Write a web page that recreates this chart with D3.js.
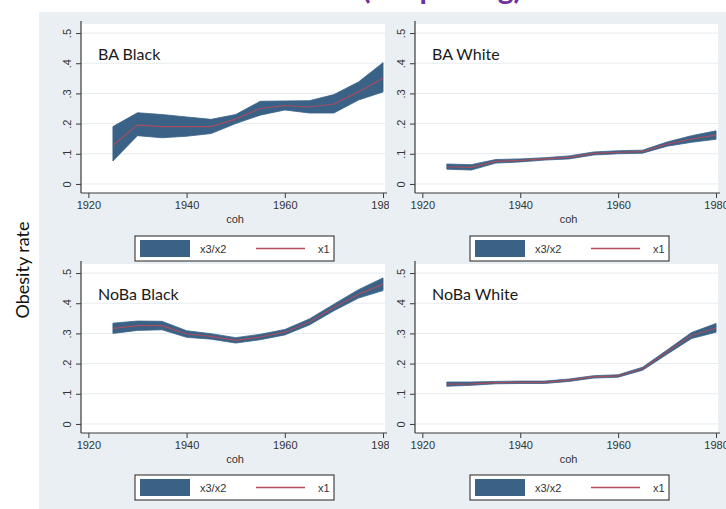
<!DOCTYPE html>
<html>
<head>
<meta charset="utf-8">
<script src="https://cdn.jsdelivr.net/npm/d3@7"></script>
<style>
  html, body { margin: 0; padding: 0; background: #ffffff; }
  svg { display: block; }
</style>
</head>
<body>
<svg id="chart" width="726" height="509"></svg>
<script>
// Birth cohorts on the x axis
const cohorts = [1925, 1930, 1935, 1940, 1945, 1950, 1955, 1960, 1965, 1970, 1975, 1980];

// Obesity rate: x1 = point estimate, x3/x2 = lower/upper bounds
const baBlackX1 = [0.128, 0.195, 0.19, 0.19, 0.19, 0.215, 0.25, 0.26, 0.255, 0.265, 0.305, 0.35];
const baBlackX2 = [0.076, 0.16, 0.153, 0.158, 0.167, 0.2, 0.228, 0.245, 0.235, 0.235, 0.278, 0.305];
const baBlackX3 = [0.19, 0.236, 0.23, 0.222, 0.214, 0.23, 0.274, 0.275, 0.276, 0.296, 0.338, 0.402];

const baWhiteX1 = [0.057, 0.055, 0.075, 0.078, 0.083, 0.088, 0.101, 0.105, 0.107, 0.132, 0.149, 0.162];
const baWhiteX2 = [0.049, 0.046, 0.069, 0.073, 0.079, 0.083, 0.096, 0.1, 0.102, 0.125, 0.138, 0.148];
const baWhiteX3 = [0.066, 0.064, 0.081, 0.083, 0.087, 0.093, 0.106, 0.11, 0.112, 0.139, 0.16, 0.176];

const noBaBlackX1 = [0.317, 0.326, 0.326, 0.298, 0.29, 0.277, 0.288, 0.304, 0.338, 0.386, 0.43, 0.463];
const noBaBlackX2 = [0.3, 0.31, 0.312, 0.287, 0.281, 0.268, 0.279, 0.295, 0.328, 0.375, 0.417, 0.442];
const noBaBlackX3 = [0.334, 0.341, 0.34, 0.309, 0.299, 0.286, 0.297, 0.313, 0.348, 0.397, 0.445, 0.484];

const noBaWhiteX1 = [0.132, 0.133, 0.137, 0.138, 0.138, 0.145, 0.156, 0.159, 0.183, 0.238, 0.293, 0.318];
const noBaWhiteX2 = [0.125, 0.128, 0.133, 0.134, 0.134, 0.141, 0.152, 0.155, 0.178, 0.231, 0.283, 0.304];
const noBaWhiteX3 = [0.139, 0.139, 0.141, 0.142, 0.142, 0.149, 0.16, 0.163, 0.188, 0.245, 0.303, 0.333];

// Axis ticks
const xTicks = [1920, 1940, 1960, 1980];
const yTicks = [0, 0.1, 0.2, 0.3, 0.4, 0.5];
const yTickLabels = ["0", ".1", ".2", ".3", ".4", ".5"];

const panelTitles = ["BA Black", "BA White", "NoBa Black", "NoBa White"];
const seriesX1 = [baBlackX1, baWhiteX1, noBaBlackX1, noBaWhiteX1];
const seriesX2 = [baBlackX2, baWhiteX2, noBaBlackX2, noBaWhiteX2];
const seriesX3 = [baBlackX3, baWhiteX3, noBaBlackX3, noBaWhiteX3];

const svg = d3.select("#chart");

const bandColor = "#3a6287";
const lineColor = "#b34b5b";
const gridColor = "#e6ecef";
const axisColor = "#3a3a3a";
const tickFont = "'Liberation Sans', Arial, sans-serif";
const tickSize = 11;

// Heading above the graph, cut off by the top edge
svg.append("text")
  .attr("x", 442).attr("y", -1)
  .attr("text-anchor", "middle")
  .attr("font-family", "Lato, 'Open Sans', sans-serif")
  .attr("font-size", 30)
  .attr("font-weight", "bold")
  .attr("fill", "#7030a0")
  .text("(Simple avg)");

// Graph region background
svg.append("rect")
  .attr("x", 39).attr("y", 12)
  .attr("width", 726 - 39).attr("height", 509 - 12)
  .attr("fill", "#e9eff3");

// Shared y-axis title
svg.append("text")
  .attr("transform", "translate(29,270) rotate(-90)")
  .attr("text-anchor", "middle")
  .attr("font-family", "Lato, 'Open Sans', sans-serif")
  .attr("font-size", 18)
  .attr("fill", "#111")
  .text("Obesity rate");

// Geometry of the 2x2 grid of panels
const cols = [
  { left: 81, right: 385, clipX: 39, clipW: 350, legendX: 135 },
  { left: 415, right: 718, clipX: 389, clipW: 337, legendX: 470 }
];
const rows = [
  { top: 24, bottom: 193, legendY: 236 },
  { top: 264, bottom: 433, legendY: 475 }
];

const defs = svg.append("defs");

panelTitles.forEach((title, i) => {
  const c = cols[i % 2];
  const r = rows[Math.floor(i / 2)];

  const x = d3.scaleLinear().domain([1918.5, 1980.4]).range([c.left, c.right]);
  const y = d3.scaleLinear().domain([-0.03, 0.53]).range([r.bottom, r.top]);

  const clipId = "panel-clip-" + i;
  defs.append("clipPath").attr("id", clipId)
    .append("rect")
    .attr("x", c.clipX).attr("y", r.top - 14)
    .attr("width", c.clipW).attr("height", r.bottom - r.top + 80);

  const g = svg.append("g").attr("clip-path", `url(#${clipId})`);

  // Plot region
  g.append("rect")
    .attr("x", c.left).attr("y", r.top)
    .attr("width", c.right - c.left).attr("height", r.bottom - r.top)
    .attr("fill", "#ffffff");

  // Horizontal grid
  g.append("g").selectAll("line").data(yTicks).join("line")
    .attr("x1", c.left).attr("x2", c.right)
    .attr("y1", d => y(d)).attr("y2", d => y(d))
    .attr("stroke", gridColor).attr("stroke-width", 1);

  const pts = cohorts.map((yr, k) => ({
    yr, mid: seriesX1[i][k], lo: seriesX2[i][k], hi: seriesX3[i][k]
  }));

  // x3/x2 range band
  g.append("path")
    .datum(pts)
    .attr("fill", bandColor)
    .attr("stroke", bandColor)
    .attr("stroke-width", 0.8)
    .attr("stroke-linejoin", "round")
    .attr("d", d3.area()
      .x(d => x(d.yr))
      .y0(d => y(d.lo))
      .y1(d => y(d.hi)));

  // x1 estimate
  g.append("path")
    .datum(pts)
    .attr("fill", "none")
    .attr("stroke", lineColor)
    .attr("stroke-width", 1.2)
    .attr("stroke-opacity", 0.9)
    .attr("stroke-linejoin", "round")
    .attr("d", d3.line().x(d => x(d.yr)).y(d => y(d.mid)));

  // Panel title
  g.append("text")
    .attr("x", c.left + 17).attr("y", r.top + 36)
    .attr("font-family", "Lato, 'Open Sans', sans-serif")
    .attr("font-size", 16)
    .attr("fill", "#1a1a1a")
    .text(title);

  // Y axis with vertical tick labels
  const yAxis = g.append("g")
    .attr("transform", `translate(${c.left},0)`)
    .call(d3.axisLeft(y).tickValues(yTicks).tickSize(5).tickSizeOuter(0)
      .tickFormat((d, k) => yTickLabels[k]));
  yAxis.select(".domain").remove();
  yAxis.append("line")
    .attr("x1", 0).attr("x2", 0)
    .attr("y1", r.top - 3).attr("y2", r.bottom)
    .attr("stroke", axisColor).attr("stroke-width", 1.2);
  yAxis.selectAll(".tick line").attr("stroke", axisColor);
  yAxis.selectAll(".tick text")
    .attr("font-family", tickFont)
    .attr("font-size", tickSize)
    .attr("fill", "#333")
    .attr("text-anchor", "middle")
    .attr("x", null).attr("dy", null)
    .attr("transform", "translate(-8,0) rotate(-90)")
    .attr("dominant-baseline", "text-after-edge")
    .attr("y", 0);

  // X axis
  const xAxis = g.append("g")
    .attr("transform", `translate(0,${r.bottom})`)
    .call(d3.axisBottom(x).tickValues(xTicks).tickSize(5).tickSizeOuter(0)
      .tickFormat(d3.format("d")));
  xAxis.select(".domain").remove();
  xAxis.append("line")
    .attr("x1", c.left).attr("x2", c.right + 2)
    .attr("y1", 0).attr("y2", 0)
    .attr("stroke", axisColor).attr("stroke-width", 1.2);
  xAxis.selectAll(".tick line").attr("stroke", axisColor);
  xAxis.selectAll(".tick text")
    .attr("font-family", tickFont)
    .attr("font-size", tickSize)
    .attr("fill", "#333")
    .attr("y", 8);

  // X axis title
  g.append("text")
    .attr("x", (c.left + c.right) / 2 + 2).attr("y", r.bottom + 30)
    .attr("text-anchor", "middle")
    .attr("font-family", tickFont)
    .attr("font-size", tickSize)
    .attr("fill", "#333")
    .text("coh");

  // Legend
  const lg = svg.append("g").attr("transform", `translate(${c.legendX},${r.legendY})`);
  lg.append("rect")
    .attr("x", 0).attr("y", 0).attr("width", 199).attr("height", 25)
    .attr("fill", "#ffffff").attr("stroke", "#222").attr("stroke-width", 1);
  lg.append("rect")
    .attr("x", 5).attr("y", 4).attr("width", 50).attr("height", 17)
    .attr("fill", bandColor);
  lg.append("text")
    .attr("x", 65).attr("y", 16.5)
    .attr("font-family", tickFont).attr("font-size", tickSize).attr("fill", "#333")
    .text("x3/x2");
  lg.append("line")
    .attr("x1", 121).attr("x2", 170).attr("y1", 12.5).attr("y2", 12.5)
    .attr("stroke", lineColor).attr("stroke-width", 1.3);
  lg.append("text")
    .attr("x", 183).attr("y", 16.5)
    .attr("font-family", tickFont).attr("font-size", tickSize).attr("fill", "#333")
    .text("x1");
});
</script>
</body>
</html>
